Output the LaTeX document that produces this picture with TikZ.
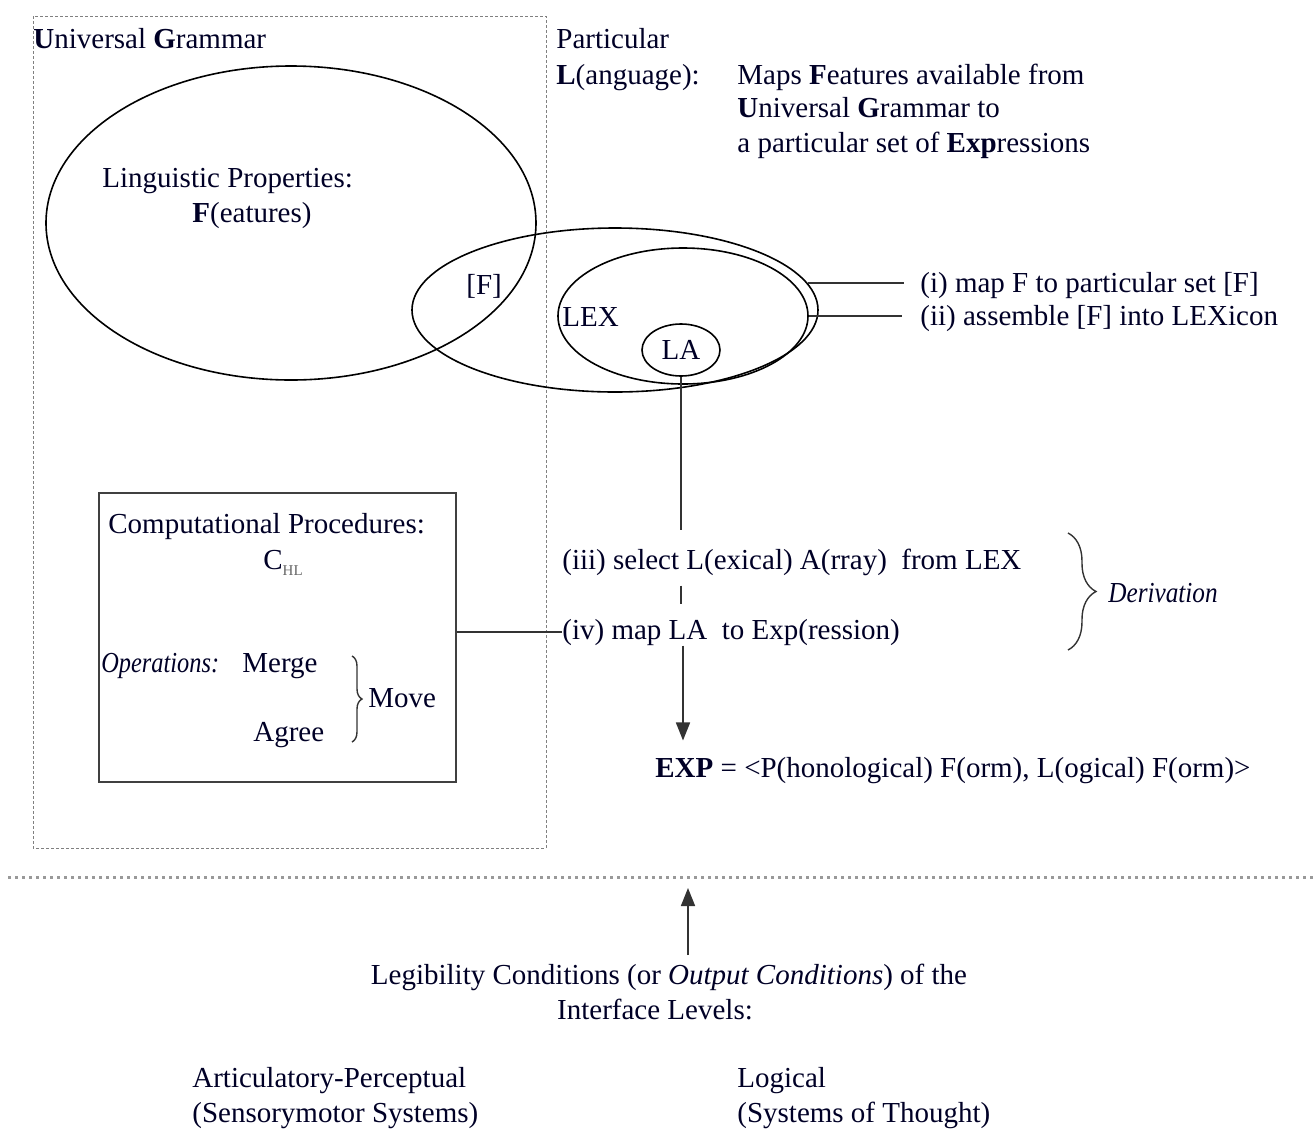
\documentclass[tikz,border=0pt]{standalone}
\usepackage{fontspec}
\setmainfont{Liberation Serif}
\usetikzlibrary{shapes.geometric,decorations.pathreplacing,arrows.meta}
\begin{document}
\begin{tikzpicture}[x=0.5pt,y=-0.5pt,
  txt/.style={inner sep=0pt, anchor=base west, font=\fontsize{14.5}{17}\selectfont, text=black!85!blue},
  ctxt/.style={txt, anchor=base},
  ell/.style={ellipse, draw, line width=0.8pt, inner sep=0pt},
  conn/.style={line width=0.8pt, draw=black!80},
  arr/.style={conn, -{Triangle[length=9pt,width=7pt]}},
  brc/.style={draw=black!80, line width=0.7pt, decorate},
]
\useasboundingbox (0,0) rectangle (1314,1131);

% Universal Grammar frame
\draw[gray, line width=0.5pt, dash pattern=on 1.5pt off 1pt] (33,16) rectangle (546,848);
\node[txt] (ug) at (33,48) {\textbf{U}niversal \textbf{G}rammar};

% Particular language
\node[txt] (part) at (556,48) {Particular};
\node[txt] (lang) at (556,84) {\textbf{L}(anguage):};
\node[txt] (maps1) at (737,84) {Maps \textbf{F}eatures available from};
\node[txt] (maps2) at (737,117) {\textbf{U}niversal \textbf{G}rammar to};
\node[txt] (maps3) at (737,152) {a particular set of \textbf{Exp}ressions};

% ellipses
\node[ell, minimum width=490pt/2, minimum height=314pt/2] (Fell) at (291,223) {};
\node[ell, minimum width=406pt/2, minimum height=164pt/2] (Lell) at (615,310) {};
\node[ell, minimum width=250pt/2, minimum height=136pt/2] (LEXell) at (683,316) {};
\node[ell, minimum width=78pt/2, minimum height=52pt/2] (LA) at (681,350) {};

\node[txt] (lp) at (102,187) {Linguistic Properties:};
\node[txt] (feat) at (192,222) {\textbf{F}(eatures)};
\node[txt] (fset) at (466,294) {[F]};
\node[txt] (lex) at (562,326) {LEX};
\node[txt, anchor=center] at (LA) {LA};

% labels (i), (ii)
\node[txt] (t1) at (920,292) {(i) map F to particular set [F]};
\node[txt] (t2) at (920,325) {(ii) assemble [F] into LEXicon};
\draw[conn, shorten >=8pt] (Lell.8) -- (Lell.8 -| t1.west);
\draw[conn, shorten >=9pt] (LEXell.east) -- (LEXell.east -| t2.west);

% derivation steps
\node[txt] (t3) at (562,569) {(iii) select L(exical) A(rray)\ \ from LEX};
\node[txt] (t4) at (562,639) {(iv) map LA\ \ to Exp(ression)};
\node[txt] (exp) at (655,777) {\textbf{EXP} = <P(honological) F(orm), L(ogical) F(orm)>};
\draw[conn, shorten >=9pt] (LA.south) -- (LA.south |- t3.north);
\draw[conn, shorten <=5pt, shorten >=7pt] (LA.south |- t3.south) -- (LA.south |- t4.north);
\draw[arr, shorten >=8pt] ([xshift=1pt]LA.south |- t4.south) -- ([xshift=1pt]LA.south |- exp.north);

\draw[brc, decoration={brace, amplitude=14pt}] (1068,533) -- (1068,650);
\node[txt, font=\fontsize{14.5}{17}\selectfont\itshape] (der) at (1108,602) {\scalebox{0.87}[1]{Derivation}};

% computational box
\node[draw=black!75, line width=1pt, minimum width=357pt/2, minimum height=289pt/2, inner sep=0pt] (box) at (277.5,637.5) {};
\node[txt] (cp) at (108,533) {Computational Procedures:};
\node[txt] (chl) at (263,569) {C\raisebox{-3pt}{\fontsize{7.5}{8}\selectfont\color{black!60}HL}};
\node[txt, font=\fontsize{14.5}{17}\selectfont\itshape] (ops) at (101,672) {\scalebox{0.84}[1]{Operations:}};
\node[txt] (merge) at (242,672) {Merge};
\node[txt] (agree) at (253,741) {Agree};
\draw[brc, decoration={brace, amplitude=5pt}] (352,656) -- (352,742);
\node[txt] (move) at (368,707) {Move};
\draw[conn] (t4.west -| box.east) -- (t4.west);

% separator
\draw[black!40, line width=1.5pt, dotted] (8,877) -- (1314,877);

% interface
\node[ctxt] (leg) at (669,984) {Legibility Conditions (or \textit{Output Conditions}) of the};
\node[ctxt] (ifl) at (655,1019) {Interface Levels:};
\coordinate (sepA) at (688,888);
\draw[arr] (leg.north -| sepA) ++(0,-8) -- (sepA);
\node[txt] (ap1) at (192,1087) {Articulatory-Perceptual};
\node[txt] (ap2) at (192,1122) {(Sensorymotor Systems)};
\node[txt] (lg1) at (737,1087) {Logical};
\node[txt] (lg2) at (737,1122) {(Systems of Thought)};
\end{tikzpicture}
\end{document}
